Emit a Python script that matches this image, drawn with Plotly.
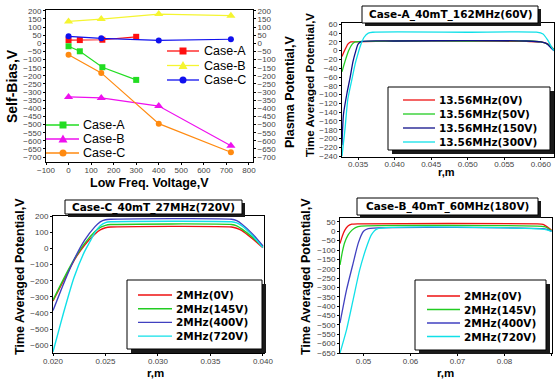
import plotly.graph_objects as go

W, H = 558, 379

# ---------------- Panel 1: self-bias / plasma potential vs LF voltage ----------------
lf_voltage_A = [0, 50, 150, 300]
lf_voltage_B = [0, 145, 400, 720]
lf_voltage_C = [0, 145, 400, 720]
self_bias_A = [-18, -49, -147, -225]
self_bias_B = [-330, -336, -386, -630]
self_bias_C = [-70, -182, -494, -670]
plasma_pot_A = [20, 20, 22, 40]
plasma_pot_B = [135, 149, 180, 170]
plasma_pot_C = [43, 31, 18, 25]
case_names = ["Case-A", "Case-B", "Case-C"]

# ---------------- Panel 2: Case-A 40mT 162MHz(60V) ----------------
caseA_labels = ["13.56MHz(0V)", "13.56MHz(50V)", "13.56MHz(150V)", "13.56MHz(300V)"]
caseA_r_0 = [0.0328, 0.0332, 0.0336, 0.0340, 0.0345, 0.040, 0.050, 0.058, 0.0600, 0.0610, 0.0618]
caseA_v_0 = [-13, 2, 15, 20, 20, 22, 22, 21, 20, 15, 3]
caseA_r_50 = [0.0328, 0.0332, 0.0337, 0.0342, 0.0346, 0.040, 0.050, 0.0585, 0.0600, 0.0610, 0.0618]
caseA_v_50 = [-48, -25, 0, 15, 20, 22, 22, 22, 20, 14, 2]
caseA_r_150 = [0.0328, 0.0330, 0.0335, 0.0339, 0.0343, 0.0347, 0.0350, 0.0355, 0.040, 0.050, 0.058, 0.0600, 0.0608, 0.0613, 0.0618]
caseA_v_150 = [-215, -145, -95, -62, -25, 0, 15, 21, 22, 23, 22, 20, 16, 8, 0]
caseA_r_300 = [0.0328, 0.0332, 0.0336, 0.0341, 0.0346, 0.0350, 0.0354, 0.0358, 0.0364, 0.0370, 0.050, 0.0594, 0.0603, 0.0609, 0.0614, 0.0618]
caseA_v_300 = [-240, -180, -110, -70, -30, -6, 15, 30, 40, 42, 42, 42, 38, 25, 10, 0]

# ---------------- Panel 3: Case-C 40mT 27MHz(720V) ----------------
caseC_labels = ["2MHz(0V)", "2MHz(145V)", "2MHz(400V)", "2MHz(720V)"]
caseC_r = [0.020, 0.021, 0.022, 0.023, 0.024, 0.0245, 0.025, 0.0255, 0.037, 0.0375, 0.038, 0.039, 0.040]
caseC_v_0 = [-325, -200, -75, 20, 90, 115, 128, 133, 133, 125, 110, 60, 5]
caseC_v_145 = [-320, -190, -70, 30, 105, 130, 143, 148, 148, 140, 120, 70, 10]
caseC_v_400 = [-385, -220, -70, 50, 135, 165, 178, 181, 181, 172, 150, 90, 15]
caseC_r_720 = [0.020, 0.0205, 0.021, 0.022, 0.023, 0.0235, 0.024, 0.0245, 0.025, 0.0255, 0.037, 0.0375, 0.038, 0.039, 0.040]
caseC_v_720 = [-640, -520, -400, -180, -20, 40, 100, 140, 160, 165, 165, 158, 140, 80, 5]

# ---------------- Panel 4: Case-B 40mT 60MHz(180V) ----------------
caseB_labels = ["2MHz(0V)", "2MHz(145V)", "2MHz(400V)", "2MHz(720V)"]
caseB_r_0 = [0.045, 0.0455, 0.046, 0.0467, 0.0475, 0.049, 0.087, 0.0882, 0.089, 0.090]
caseB_v_0 = [-65, -25, 5, 28, 38, 40, 40, 37, 25, 5]
caseB_r_145 = [0.045, 0.0455, 0.046, 0.0467, 0.0475, 0.0483, 0.0495, 0.087, 0.0885, 0.0893, 0.090]
caseB_v_145 = [-180, -110, -60, -20, 5, 20, 28, 28, 25, 15, 3]
caseB_r_400 = [0.045, 0.0464, 0.0478, 0.0489, 0.0500, 0.0510, 0.088, 0.089, 0.090]
caseB_v_400 = [-490, -312, -170, -62, 0, 14, 14, 10, 0]
caseB_r_720 = [0.045, 0.0464, 0.0478, 0.0492, 0.0507, 0.0517, 0.0528, 0.088, 0.089, 0.090]
caseB_v_720 = [-650, -525, -365, -205, -80, -18, 12, 12, 8, 0]

# ---------------- colours ----------------
C_RED, C_YEL, C_BLU = "#ff1010", "#f5f530", "#1010ee"
C_GRN, C_MAG, C_ORA = "#22dd22", "#ee10ee", "#ff8a10"
L_RED, L_GRN, L_NAV, L_CYA = "#ee1111", "#22cc22", "#10108a", "#10e0e8"
L_BLU2 = "#4040c0"

TICKFONT = dict(family="Liberation Sans, Arial", size=8, color="#444444")
TITLEFONT = "Liberation Sans, Arial"
BOLDFONT = "DejaVu Sans"

fig = go.Figure()

# panel 1 traces
fig.add_trace(go.Scatter(x=lf_voltage_A, y=self_bias_A, mode="lines+markers", xaxis="x", yaxis="y",
                         line=dict(color=C_GRN, width=1.2), marker=dict(symbol="square", size=6, color=C_GRN)))
fig.add_trace(go.Scatter(x=lf_voltage_B, y=self_bias_B, mode="lines+markers", xaxis="x", yaxis="y",
                         line=dict(color=C_MAG, width=1.2), marker=dict(symbol="triangle-up", size=8, color=C_MAG)))
fig.add_trace(go.Scatter(x=lf_voltage_C, y=self_bias_C, mode="lines+markers", xaxis="x", yaxis="y",
                         line=dict(color=C_ORA, width=1.2), marker=dict(symbol="circle", size=6, color=C_ORA)))
fig.add_trace(go.Scatter(x=lf_voltage_A, y=plasma_pot_A, mode="lines+markers", xaxis="x", yaxis="y2",
                         line=dict(color=C_RED, width=1.2), marker=dict(symbol="square", size=6, color=C_RED)))
fig.add_trace(go.Scatter(x=lf_voltage_B, y=plasma_pot_B, mode="lines+markers", xaxis="x", yaxis="y2",
                         line=dict(color=C_YEL, width=1.2), marker=dict(symbol="triangle-up", size=8, color=C_YEL)))
fig.add_trace(go.Scatter(x=lf_voltage_C, y=plasma_pot_C, mode="lines+markers", xaxis="x", yaxis="y2",
                         line=dict(color=C_BLU, width=1.2), marker=dict(symbol="circle", size=6, color=C_BLU)))

# panel 2 traces
for r, v, c in [(caseA_r_0, caseA_v_0, L_RED), (caseA_r_50, caseA_v_50, L_GRN),
                (caseA_r_150, caseA_v_150, L_NAV), (caseA_r_300, caseA_v_300, L_CYA)]:
    fig.add_trace(go.Scatter(x=r, y=v, mode="lines", xaxis="x3", yaxis="y3",
                             line=dict(color=c, width=1.3, shape="spline", smoothing=0.6)))
# panel 3 traces
for r, v, c in [(caseC_r, caseC_v_0, L_RED), (caseC_r, caseC_v_145, L_GRN),
                (caseC_r, caseC_v_400, L_BLU2), (caseC_r_720, caseC_v_720, L_CYA)]:
    fig.add_trace(go.Scatter(x=r, y=v, mode="lines", xaxis="x4", yaxis="y4",
                             line=dict(color=c, width=1.4, shape="spline", smoothing=0.6)))
# panel 4 traces
for r, v, c in [(caseB_r_0, caseB_v_0, L_RED), (caseB_r_145, caseB_v_145, L_GRN),
                (caseB_r_400, caseB_v_400, L_BLU2), (caseB_r_720, caseB_v_720, L_CYA)]:
    fig.add_trace(go.Scatter(x=r, y=v, mode="lines", xaxis="x5", yaxis="y5",
                             line=dict(color=c, width=1.3, shape="spline", smoothing=0.6)))


def xd(a, b):
    return [a / W, b / W]


def yd(top, bottom):
    return [1 - bottom / H, 1 - top / H]


def ax(**kw):
    base = dict(showline=True, linecolor="black", linewidth=1, mirror=True, ticks="outside",
                ticklen=2, tickcolor="black", showgrid=False, zeroline=False, tickfont=TICKFONT,
                automargin=False, fixedrange=True)
    base.update(kw)
    return base


XSTAND = dict(ticklabelstandoff=-2)

fig.update_layout(
    width=W, height=H, autosize=False, template="none",
    margin=dict(l=0, r=0, t=0, b=0), showlegend=False,
    paper_bgcolor="white", plot_bgcolor="white",
    font=dict(family=TITLEFONT, color="black"),
    xaxis=ax(domain=xd(46, 253), anchor="y", range=[-100, 818], tick0=-100, dtick=100, **XSTAND),
    yaxis=ax(domain=yd(10, 162), anchor="x", range=[-730, 205], tick0=0, dtick=50, mirror=False),
    yaxis2=ax(overlaying="y", side="right", anchor="x", range=[-730, 205], tick0=0, dtick=50, mirror=False),
    xaxis3=ax(domain=xd(342, 554), anchor="y3", range=[0.0328, 0.0618], tick0=0.035, dtick=0.005,
              tickformat=".3f", ticklabelstandoff=-3),
    yaxis3=ax(domain=yd(23, 157), anchor="x3", range=[-242, 63], tick0=0, dtick=20),
    xaxis4=ax(domain=xd(53, 264), anchor="y4", range=[0.020, 0.0401], tick0=0.020, dtick=0.005,
              tickformat=".3f", **XSTAND),
    yaxis4=ax(domain=yd(216, 353), anchor="x4", range=[-648, 201], tick0=0, dtick=100),
    xaxis5=ax(domain=xd(340, 552), anchor="y5", range=[0.045, 0.0901], tick0=0.05, dtick=0.01,
              tickformat=".2f", **XSTAND),
    yaxis5=ax(domain=yd(218, 353), anchor="x5", range=[-650, 71], tick0=0, dtick=50),
)

shapes = []
annotations = []


def PX(x):
    return x / W


def PY(y):
    return 1 - y / H


def rect(x0, y0, x1, y1, fill, lw=1, lc="black"):
    shapes.append(dict(type="rect", xref="paper", yref="paper", x0=PX(x0), x1=PX(x1),
                       y0=PY(y1), y1=PY(y0), fillcolor=fill, layer="above",
                       line=dict(width=lw, color=lc)))


def shadow_box(x0, y0, x1, y1, sh):
    rect(x0 + sh, y0 + sh, x1 + sh, y1 + sh, "#1a1a1a", lw=0, lc="rgba(0,0,0,0)")
    rect(x0, y0, x1, y1, "white", lw=1)


def text(x, y, s, size, family, bold=False, anchor="left", angle=0, color="black"):
    annotations.append(dict(xref="paper", yref="paper", x=PX(x), y=PY(y), text=s, showarrow=False,
                            xanchor=anchor, yanchor="middle", textangle=angle,
                            font=dict(family=family, size=size, color=color,
                                      weight="bold" if bold else "normal")))


def hline(x0, x1, y, color, w=1.5):
    shapes.append(dict(type="line", xref="paper", yref="paper", x0=PX(x0), x1=PX(x1),
                       y0=PY(y), y1=PY(y), layer="above", line=dict(color=color, width=w)))


def marker(kind, xc, yc, color, s=3.5):
    if kind == "square":
        shapes.append(dict(type="rect", xref="paper", yref="paper", x0=PX(xc - s), x1=PX(xc + s),
                           y0=PY(yc + s), y1=PY(yc - s), fillcolor=color, layer="above",
                           line=dict(width=0, color=color)))
    elif kind == "circle":
        shapes.append(dict(type="circle", xref="paper", yref="paper", x0=PX(xc - s), x1=PX(xc + s),
                           y0=PY(yc + s), y1=PY(yc - s), fillcolor=color, layer="above",
                           line=dict(width=0, color=color)))
    else:
        t = s + 1
        path = "M %f,%f L %f,%f L %f,%f Z" % (PX(xc - t), PY(yc + t * 0.8), PX(xc + t), PY(yc + t * 0.8),
                                              PX(xc), PY(yc - t))
        shapes.append(dict(type="path", xref="paper", yref="paper", path=path, fillcolor=color,
                           layer="above", line=dict(width=0, color=color)))


# ---- panel 1 legends (no frame)
kinds = ["square", "triangle", "circle"]
for i, (name, col, k) in enumerate(zip(case_names, [C_GRN, C_MAG, C_ORA], kinds)):
    y = 125 + 14 * i
    hline(46, 79, y, col, 1.3)
    marker(k, 63, y, col)
    text(81, y, name, 12.5, TITLEFONT)
for i, (name, col, k) in enumerate(zip(case_names, [C_RED, C_YEL, C_BLU], kinds)):
    y = 51 + 14.5 * i
    hline(167, 199, y, col, 1.3)
    marker(k, 183, y, col)
    text(202, y, name, 12.5, TITLEFONT)

# ---- panel 1 axis titles
text(149, 183, "Low Freq. Voltage,V", 12.5, TITLEFONT, bold=True, anchor="center")
text(12, 86, "Self-Bias,V", 14, TITLEFONT, bold=True, anchor="center", angle=-90)
text(290, 92, "Plasma Potential,V", 12.5, TITLEFONT, bold=True, anchor="center", angle=-90)

# ---- panel 2
shadow_box(362, 6, 538, 23, 3)
text(450, 14.5, "Case-A_40mT_162MHz(60V)", 10.5, BOLDFONT, bold=True, anchor="center")
shadow_box(388, 87, 550, 150, 4)
for i, (lab, col) in enumerate(zip(caseA_labels, [L_RED, L_GRN, L_NAV, L_CYA])):
    y = 100 + 14 * i
    hline(403, 435, y, col, 1.3)
    text(437, y, lab, 10.5, BOLDFONT, bold=True)
text(310, 85, "Time Averaged Potential,V", 11.5, TITLEFONT, bold=True, anchor="center", angle=-90)
text(446, 172.5, "r,m", 11, TITLEFONT, bold=True, anchor="center")

# ---- panel 3
shadow_box(65, 200, 242, 214, 3)
text(153.5, 207, "Case-C_40mT_27MHz(720V)", 10.5, BOLDFONT, bold=True, anchor="center")
shadow_box(127, 280, 262, 349, 4)
for i, (lab, col) in enumerate(zip(caseC_labels, [L_RED, L_GRN, L_BLU2, L_CYA])):
    y = 295 + 13.7 * i
    hline(138, 172, y, col, 1.4)
    text(174, y, lab, 10.5, BOLDFONT, bold=True)
text(20, 277, "Time Averaged Potential,V", 12.5, TITLEFONT, bold=True, anchor="center", angle=-90)
text(155, 372.5, "r,m", 11.5, TITLEFONT, bold=True, anchor="center")

# ---- panel 4
shadow_box(357, 198, 538, 215, 3)
text(447.5, 206.5, "Case-B_40mT_60MHz(180V)", 10.5, BOLDFONT, bold=True, anchor="center")
shadow_box(415, 280, 546, 350, 4)
for i, (lab, col) in enumerate(zip(caseB_labels, [L_RED, L_GRN, L_BLU2, L_CYA])):
    y = 296 + 13.5 * i
    hline(427, 460, y, col, 1.4)
    text(462, y, lab, 10.5, BOLDFONT, bold=True)
text(306, 277, "Time Averaged Potential,V", 12.5, TITLEFONT, bold=True, anchor="center", angle=-90)
text(445, 372.5, "r,m", 11.5, TITLEFONT, bold=True, anchor="center")

fig.update_layout(shapes=shapes, annotations=annotations)
fig.write_html("out.html", config={"displayModeBar": False},
               post_script="document.body.style.margin='0px';document.body.style.overflow='hidden';")
